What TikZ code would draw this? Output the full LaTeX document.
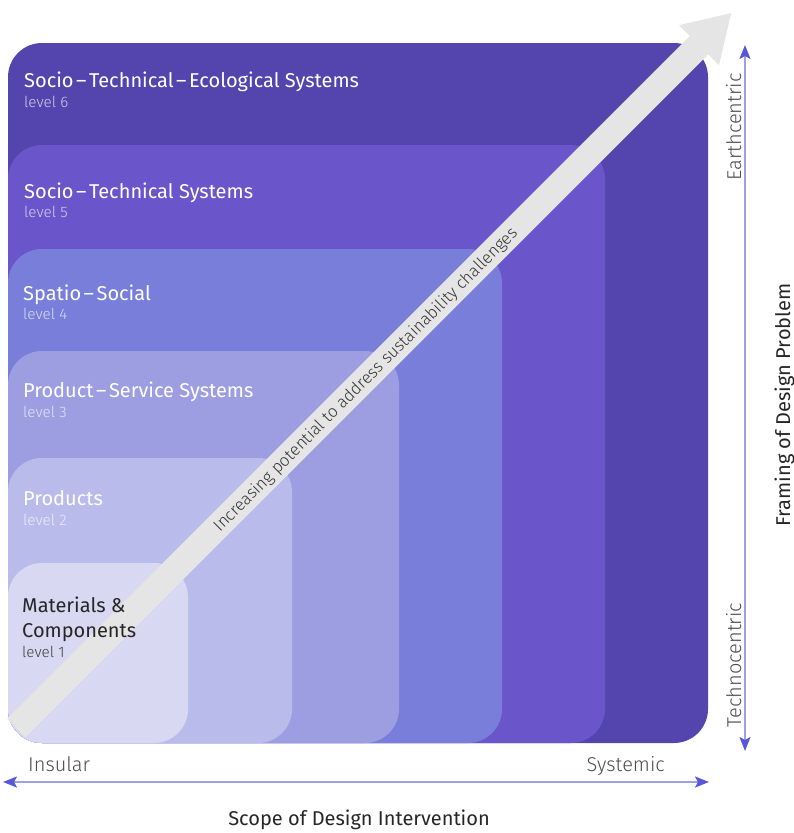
\documentclass[tikz,border=0pt]{standalone}
\usepackage{fontspec}
\setmainfont{Fira Sans}
\newfontfamily\lightfont{Fira Sans Light}
\usetikzlibrary{arrows.meta}
\definecolor{levelsix}{HTML}{5445AE}
\definecolor{levelfive}{HTML}{6A55CB}
\definecolor{levelfour}{HTML}{787ED9}
\definecolor{levelthree}{HTML}{9C9EE1}
\definecolor{leveltwo}{HTML}{B9BBEB}
\definecolor{levelone}{HTML}{D8D8F2}
\definecolor{shaftgray}{HTML}{E5E5E5}
\definecolor{axisline}{HTML}{9EA0E6}
\definecolor{axistip}{HTML}{5558D8}
\definecolor{bodytext}{HTML}{333333}
\newcommand{\lvldash}{\kern2.5pt–\kern2.5pt}

\tikzset{
  levelbox/.style={rounded corners=34pt},
  leveltitle/.style={anchor=base west, inner sep=0pt, font=\fontsize{20}{24}\selectfont, text=white},
  leveltag/.style={anchor=base west, inner sep=0pt, font=\lightfont\fontsize{15.2}{18}\selectfont, text=white, text opacity=0.72},
  axis/.style={axisline, line width=1.5pt, {Stealth[length=14pt,width=11pt,inset=3pt,color=axistip]}-{Stealth[length=14pt,width=11pt,inset=3pt,color=axistip]}},
  axislabel/.style={inner sep=0pt, font=\lightfont\fontsize{20}{24}\selectfont, text=black!70},
}

\begin{document}
\begin{tikzpicture}[x=1pt, y=-1pt]
    \useasboundingbox (0,0) rectangle (794,833);

    % Nested levels, all sharing the lower left corner
    \fill[levelsix, levelbox] (8,743) rectangle (708,43);
    \fill[levelfive, levelbox] (8,743) rectangle (605,145);
    \fill[levelfour, levelbox] (8,743) rectangle (502,249);
    \fill[levelthree, levelbox] (8,743) rectangle (399,351);
    \fill[leveltwo, levelbox] (8,743) rectangle (292,458);
    \fill[levelone, levelbox] (8,743) rectangle (188,563);

    % Diagonal arrow
    \coordinate (tail) at (16.3,727.9);
    \coordinate (tip) at (731.6,12.6);
    \draw[shaftgray, line width=26pt, -{Triangle[length=46pt,width=53pt]}] (tail) -- (tip);
    \node[rotate=45, inner sep=0pt, font=\lightfont\fontsize{16.8}{20}\selectfont, text=bodytext] (potential) at (366,380) {Increasing potential to address sustainability challenges};

    % Level labels
    \node[leveltitle] (stesys) at (24,87) {Socio\lvldash Technical\lvldash Ecological Systems};
    \node[leveltag] (stetag) at (24,107) {level 6};
    \node[leveltitle] (stsys) at (24,198) {Socio\lvldash Technical Systems};
    \node[leveltag] (sttag) at (24,217) {level 5};
    \node[leveltitle] (spatio) at (23,300) {Spatio\lvldash Social};
    \node[leveltag] (spatiotag) at (23,319) {level 4};
    \node[leveltitle] (pss) at (23,397) {Product\lvldash Service Systems};
    \node[leveltag] (psstag) at (23,417) {level 3};
    \node[leveltitle] (products) at (23,505) {Products};
    \node[leveltag] (productstag) at (23,525) {level 2};
    \node[leveltitle, text=black!85] (materials) at (22,612) {Materials \&};
    \node[leveltitle, text=black!85] (components) at (22,637) {Components};
    \node[leveltag, text=black!75, text opacity=1] (materialstag) at (22,657) {level 1};

    % Axes
    \coordinate (ytop) at (745,45);
    \coordinate (ybot) at (745,751);
    \coordinate (xleft) at (3,782);
    \coordinate (xright) at (709,782);
    \draw[axis] (ybot) -- (ytop);
    \draw[axis] (xleft) -- (xright);

    % Axis labels
    \node[axislabel, rotate=90, anchor=base] (earth) at (741,127) {Earthcentric};
    \node[axislabel, rotate=90, anchor=base] (techno) at (741,665) {Technocentric};
    \node[axislabel, anchor=base west] (insular) at (28,771) {Insular};
    \node[axislabel, anchor=base east] (systemic) at (665,771) {Systemic};
    \node[rotate=90, anchor=base, inner sep=0pt, font=\fontsize{20}{24}\selectfont, text=black!85] (framing) at (790,405) {Framing of Design Problem};
    \node[anchor=base, inner sep=0pt, font=\fontsize{20}{24}\selectfont, text=black!85] (scope) at (359,825) {Scope of Design Intervention};
\end{tikzpicture}
\end{document}
